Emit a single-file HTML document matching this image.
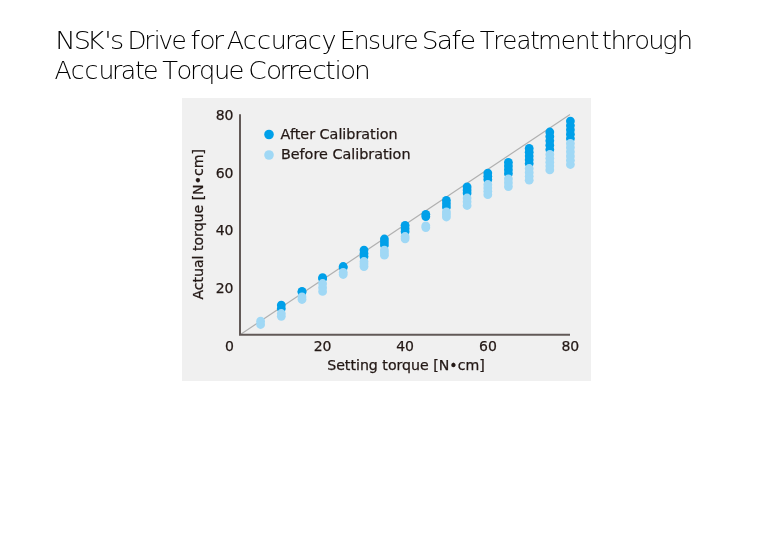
<!DOCTYPE html>
<html><head><meta charset="utf-8"><style>
html,body{margin:0;padding:0;background:#fff;width:780px;height:560px;overflow:hidden}
svg{display:block;will-change:transform}
.t{font-family:"DejaVu Sans",sans-serif;font-size:14px;fill:#231815;stroke:#231815;stroke-width:0.25px}
.h{font-family:"DejaVu Sans",sans-serif;font-weight:200;font-size:25px;fill:#000}
</style></head><body>
<svg width="780" height="560" viewBox="0 0 780 560">
<text class="h" transform="scale(1.0901,1)" x="50.67 67.66 79.64 95.53 100.82" y="49.2">NSK's</text>
<text class="h" transform="scale(0.9896,1)" x="128.90 145.83 155.48 160.20 173.40" y="49.2">Drive</text>
<text class="h" transform="scale(1.0758,1)" x="177.03 185.33 197.94" y="49.2">for</text>
<text class="h" transform="scale(1.0154,1)" x="223.32 238.96 253.04 266.67 280.57 289.16 303.02 316.66" y="49.2">Accuracy</text>
<text class="h" transform="scale(0.9994,1)" x="340.01 353.87 368.27 380.59 394.44 403.52" y="49.2">Ensure</text>
<text class="h" transform="scale(1.0623,1)" x="397.00 411.12 425.04 432.83" y="49.2">Safe</text>
<text class="h" transform="scale(0.9767,1)" x="491.26 505.09 514.20 528.85 542.79 550.88 574.20 588.84 603.82" y="49.2">Treatment</text>
<text class="h" transform="scale(1.0334,1)" x="582.37 590.73 604.66 613.78 627.27 640.75 654.84" y="49.2">through</text>
<text class="h" transform="scale(1.0087,1)" x="53.95 70.03 83.85 97.63 111.17 119.82 133.79 141.66" y="78.8">Accurate</text>
<text class="h" transform="scale(1.0310,1)" x="157.34 171.21 184.18 192.98 207.61 221.75" y="78.8">Torque</text>
<text class="h" transform="scale(1.0561,1)" x="235.11 251.81 264.63 272.78 281.07 295.67 307.86 316.82 322.02 335.25" y="78.8">Correction</text>

<rect x="182" y="98" width="409" height="283" fill="#f0f0f0"/>
<line x1="240" y1="334.8" x2="570" y2="114.4" stroke="#b0b0b0" stroke-width="1.2"/>
<g fill="#00a0e9"><circle cx="281.3" cy="305.1" r="4.4"/><circle cx="281.3" cy="308.6" r="4.4"/><circle cx="302.0" cy="291.4" r="4.4"/><circle cx="302.0" cy="292.1" r="4.4"/><circle cx="322.6" cy="277.7" r="4.4"/><circle cx="322.6" cy="278.6" r="4.4"/><circle cx="343.2" cy="266.5" r="4.4"/><circle cx="343.2" cy="267.6" r="4.4"/><circle cx="364.0" cy="250.1" r="4.4"/><circle cx="364.0" cy="253.4" r="4.4"/><circle cx="364.0" cy="256.6" r="4.4"/><circle cx="384.4" cy="239.0" r="4.4"/><circle cx="384.4" cy="242.1" r="4.4"/><circle cx="384.4" cy="245.1" r="4.4"/><circle cx="405.1" cy="225.3" r="4.4"/><circle cx="405.1" cy="228.4" r="4.4"/><circle cx="405.1" cy="231.6" r="4.4"/><circle cx="425.8" cy="214.3" r="4.4"/><circle cx="425.8" cy="216.6" r="4.4"/><circle cx="446.4" cy="200.4" r="4.4"/><circle cx="446.4" cy="203.8" r="4.4"/><circle cx="446.4" cy="207.1" r="4.4"/><circle cx="467.1" cy="186.9" r="4.4"/><circle cx="467.1" cy="190.0" r="4.4"/><circle cx="467.1" cy="193.1" r="4.4"/><circle cx="487.8" cy="173.1" r="4.4"/><circle cx="487.8" cy="176.3" r="4.4"/><circle cx="487.8" cy="179.6" r="4.4"/><circle cx="508.4" cy="162.3" r="4.4"/><circle cx="508.4" cy="166.1" r="4.4"/><circle cx="508.4" cy="169.8" r="4.4"/><circle cx="508.4" cy="173.6" r="4.4"/><circle cx="529.2" cy="148.4" r="4.4"/><circle cx="529.2" cy="152.2" r="4.4"/><circle cx="529.2" cy="156.0" r="4.4"/><circle cx="529.2" cy="159.8" r="4.4"/><circle cx="529.2" cy="163.6" r="4.4"/><circle cx="549.8" cy="132.0" r="4.4"/><circle cx="549.8" cy="136.4" r="4.4"/><circle cx="549.8" cy="140.8" r="4.4"/><circle cx="549.8" cy="145.2" r="4.4"/><circle cx="549.8" cy="149.6" r="4.4"/><circle cx="570.4" cy="121.1" r="4.4"/><circle cx="570.4" cy="125.5" r="4.4"/><circle cx="570.4" cy="129.8" r="4.4"/><circle cx="570.4" cy="134.2" r="4.4"/><circle cx="570.4" cy="138.6" r="4.4"/></g>
<g fill="#a0d8f5"><circle cx="260.6" cy="321.2" r="4.4"/><circle cx="260.6" cy="324.5" r="4.4"/><circle cx="281.3" cy="313.5" r="4.4"/><circle cx="281.3" cy="316.3" r="4.4"/><circle cx="302.0" cy="296.9" r="4.4"/><circle cx="302.0" cy="299.5" r="4.4"/><circle cx="322.6" cy="283.5" r="4.4"/><circle cx="322.6" cy="287.5" r="4.4"/><circle cx="322.6" cy="291.4" r="4.4"/><circle cx="343.2" cy="272.3" r="4.4"/><circle cx="343.2" cy="274.5" r="4.4"/><circle cx="364.0" cy="261.5" r="4.4"/><circle cx="364.0" cy="264.1" r="4.4"/><circle cx="364.0" cy="266.6" r="4.4"/><circle cx="384.4" cy="250.1" r="4.4"/><circle cx="384.4" cy="252.7" r="4.4"/><circle cx="384.4" cy="255.2" r="4.4"/><circle cx="405.1" cy="236.5" r="4.4"/><circle cx="405.1" cy="238.8" r="4.4"/><circle cx="425.8" cy="225.8" r="4.4"/><circle cx="425.8" cy="227.6" r="4.4"/><circle cx="446.4" cy="211.9" r="4.4"/><circle cx="446.4" cy="214.4" r="4.4"/><circle cx="446.4" cy="217.0" r="4.4"/><circle cx="467.1" cy="198.0" r="4.4"/><circle cx="467.1" cy="201.8" r="4.4"/><circle cx="467.1" cy="205.5" r="4.4"/><circle cx="487.8" cy="184.5" r="4.4"/><circle cx="487.8" cy="187.9" r="4.4"/><circle cx="487.8" cy="191.3" r="4.4"/><circle cx="487.8" cy="194.7" r="4.4"/><circle cx="508.4" cy="178.8" r="4.4"/><circle cx="508.4" cy="182.7" r="4.4"/><circle cx="508.4" cy="186.6" r="4.4"/><circle cx="529.2" cy="168.5" r="4.4"/><circle cx="529.2" cy="172.4" r="4.4"/><circle cx="529.2" cy="176.3" r="4.4"/><circle cx="529.2" cy="180.2" r="4.4"/><circle cx="549.8" cy="154.4" r="4.4"/><circle cx="549.8" cy="158.3" r="4.4"/><circle cx="549.8" cy="162.2" r="4.4"/><circle cx="549.8" cy="166.0" r="4.4"/><circle cx="549.8" cy="169.9" r="4.4"/><circle cx="570.4" cy="143.4" r="4.4"/><circle cx="570.4" cy="147.6" r="4.4"/><circle cx="570.4" cy="151.8" r="4.4"/><circle cx="570.4" cy="156.1" r="4.4"/><circle cx="570.4" cy="160.3" r="4.4"/><circle cx="570.4" cy="164.5" r="4.4"/></g>

<path d="M240 114.3V335.8M239 334.8H570" stroke="#625957" stroke-width="2" fill="none"/>
<circle cx="269" cy="134.5" r="4.8" fill="#00a0e9"/>
<circle cx="269" cy="155" r="4.8" fill="#a0d8f5"/>
<text class="t" x="280.6" y="138.9" textLength="117" lengthAdjust="spacingAndGlyphs">After Calibration</text>
<text class="t" x="280.9" y="159.4" textLength="129.6" lengthAdjust="spacingAndGlyphs">Before Calibration</text>
<g class="t" text-anchor="end">
<text x="233.5" y="119.8">80</text>
<text x="233.5" y="177.9">60</text>
<text x="233.5" y="235">40</text>
<text x="233.5" y="293.1">20</text>
</g>
<g class="t" text-anchor="middle">
<text x="229.4" y="351.1">0</text>
<text x="322.6" y="351.1">20</text>
<text x="405.1" y="351.1">40</text>
<text x="487.9" y="351.1">60</text>
<text x="570.3" y="351.1">80</text>
</g>
<text class="t" x="327.2" y="370" textLength="157.6" lengthAdjust="spacingAndGlyphs">Setting torque [N•cm]</text>
<text class="t" transform="translate(203.2,299.6) rotate(-90)" font-size="15.4" textLength="150.5" lengthAdjust="spacingAndGlyphs">Actual torque [N•cm]</text>
</svg>
</body></html>
